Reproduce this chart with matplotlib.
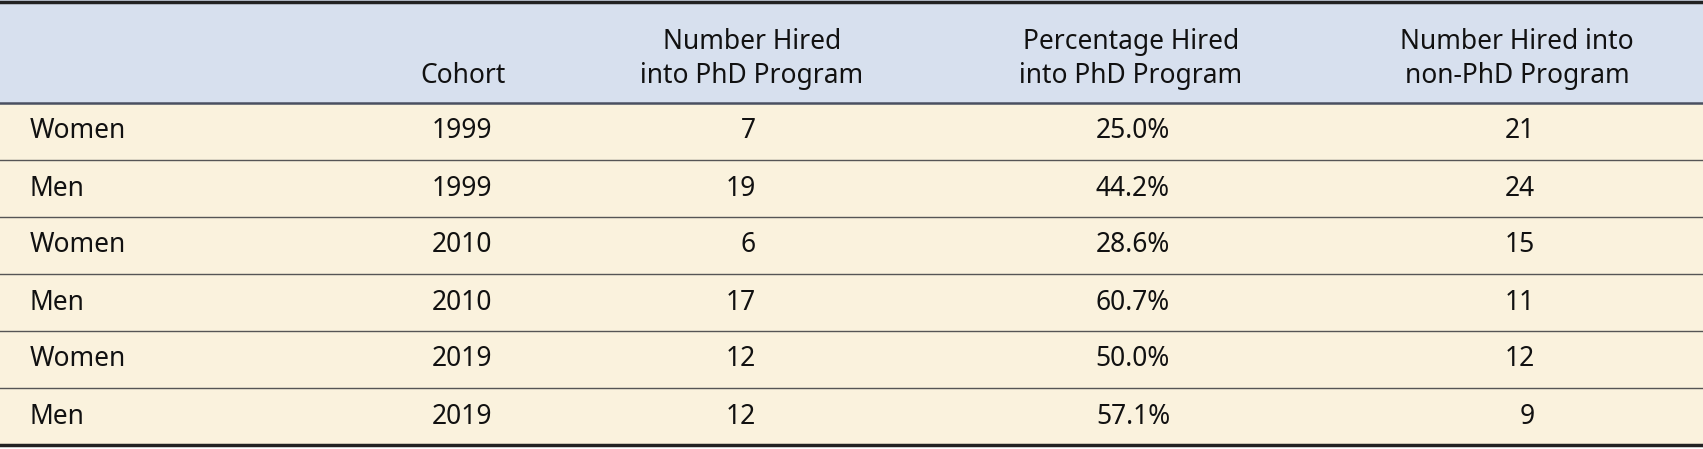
import matplotlib.pyplot as plt
from matplotlib.patches import Rectangle

groups = ["Women", "Men", "Women", "Men", "Women", "Men"]
cohorts = ["1999", "1999", "2010", "2010", "2019", "2019"]
hired_phd = [7, 19, 6, 17, 12, 12]
pct_phd = [25.0, 44.2, 28.6, 60.7, 50.0, 57.1]
hired_non_phd = [21, 24, 15, 11, 12, 9]
headers = ["", "Cohort", "Number Hired\ninto PhD Program",
           "Percentage Hired\ninto PhD Program", "Number Hired into\nnon-PhD Program"]

W, H = 1703, 449
fig = plt.figure(figsize=(W / 100, H / 100), dpi=100)
ax = fig.add_axes([0, 0, 1, 1])
ax.set_xlim(0, W)
ax.set_ylim(H, 0)
ax.axis("off")
plt.rcParams["font.family"] = ["Noto Sans", "DejaVu Sans"]

head_bot = 103
row_h = 57
fs = 19

ax.add_patch(Rectangle((0, 0), W, head_bot, color="#d7e0ee", lw=0))
ax.add_patch(Rectangle((0, head_bot), W, row_h * len(groups), color="#faf2dd", lw=0))

# header text
head_x = [30, 506, 752, 1131, 1517]
head_ha = ["left", "right", "center", "center", "center"]
for x, ha, t in zip(head_x, head_ha, headers):
    ax.text(x, head_bot - 13, t, ha=ha, va="bottom", fontsize=fs,
            linespacing=1.3, color="#111111")

# rows
for i in range(len(groups)):
    yc = head_bot + row_h * (i + 0.5)
    vals = [groups[i], cohorts[i], str(hired_phd[i]), f"{pct_phd[i]:.1f}%", str(hired_non_phd[i])]
    xs = [30, 492, 756, 1170, 1535]
    has = ["left", "right", "right", "right", "right"]
    for x, ha, v in zip(xs, has, vals):
        ax.text(x, yc, v, ha=ha, va="center", fontsize=fs, color="#111111")
    if i > 0:
        ax.plot([0, W], [head_bot + row_h * i] * 2, color="#555555", lw=1)

ax.plot([0, W], [1.5, 1.5], color="#222222", lw=2.5)
ax.plot([0, W], [head_bot, head_bot], color="#4a5060", lw=1.8)
ax.plot([0, W], [head_bot + row_h * 6] * 2, color="#222222", lw=2.5)

fig.savefig("out.png", dpi=100)
